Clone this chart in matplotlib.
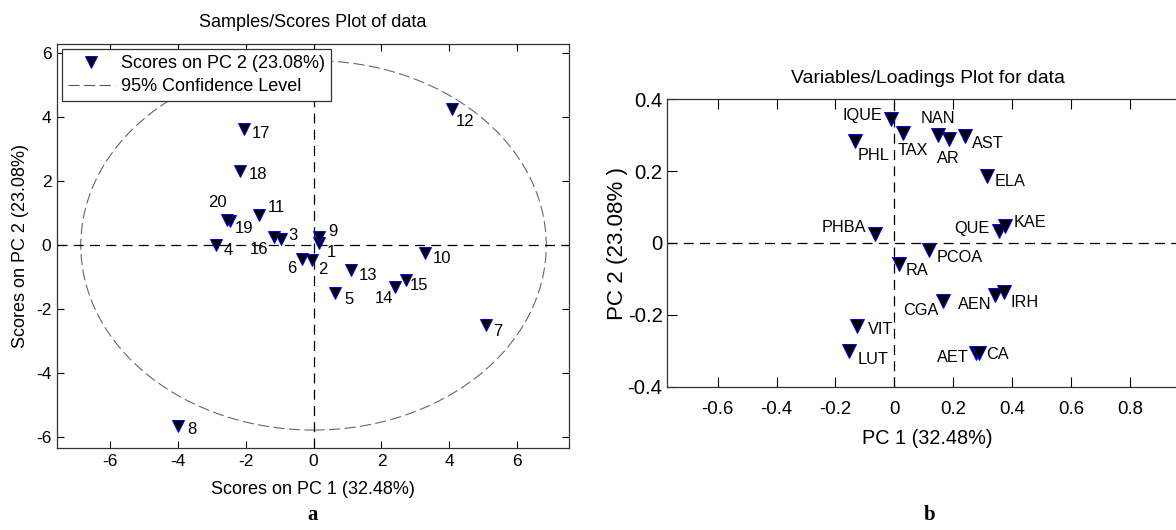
import matplotlib
matplotlib.use("Agg")
import matplotlib.pyplot as plt
from matplotlib import font_manager
from matplotlib.patches import Ellipse
from matplotlib.lines import Line2D
from matplotlib.ticker import FuncFormatter

# --- panel a: sample scores ---
sample_ids = ["1", "2", "3", "4", "5", "6", "7", "8", "9", "10",
              "11", "12", "13", "14", "15", "16", "17", "18", "19", "20"]
pc1_scores = [0.16, -0.03, -0.97, -2.86, 0.62, -0.33, 5.07, -4.0, 0.16, 3.27,
              -1.60, 4.09, 1.10, 2.41, 2.73, -1.16, -2.05, -2.15, -2.47, -2.56]
pc2_scores = [0.06, -0.46, 0.19, 0.01, -1.50, -0.44, -2.49, -5.64, 0.25, -0.25,
              0.95, 4.27, -0.77, -1.29, -1.08, 0.27, 3.63, 2.33, 0.77, 0.80]
conf_semi_axes = (6.85, 5.77)  # 95% confidence ellipse

# --- panel b: variable loadings ---
var_names = ["IQUE", "PHL", "PHBA", "VIT", "LUT", "TAX", "NAN", "AR", "AST", "ELA",
             "QUE", "KAE", "PCOA", "RA", "CGA", "AEN", "IRH", "AET", "CA"]
pc1_loadings = [-0.011, -0.133, -0.066, -0.128, -0.153, 0.031, 0.147, 0.185, 0.241, 0.314,
                0.357, 0.377, 0.119, 0.015, 0.164, 0.342, 0.371, 0.277, 0.289]
pc2_loadings = [0.346, 0.283, 0.024, -0.232, -0.301, 0.307, 0.302, 0.290, 0.297, 0.186,
                0.033, 0.047, -0.020, -0.058, -0.162, -0.146, -0.137, -0.306, -0.306]

# label offsets in pixels (dx right, dy down) -- layout only
score_offsets = {"1": (12, 9), "2": (10, 9), "3": (12, -4), "4": (12, 5), "5": (14, 6),
                 "6": (-11, 9), "7": (12, 6), "8": (14, 4), "9": (14, -6), "10": (17, 5),
                 "11": (17, -7), "12": (13, 13), "13": (17, 5), "14": (-11, 12), "15": (13, 6),
                 "16": (-15, 13), "17": (17, 4), "18": (18, 4), "19": (14, 8), "20": (-9, -17)}
loading_offsets = {"IQUE": ("right", -9, -3), "PHL": ("left", 2, 14), "PHBA": ("right", -9, -7),
                   "VIT": ("left", 11, 3), "LUT": ("left", 8, 8), "TAX": ("left", -6, 18),
                   "NAN": ("center", 0, -16), "AR": ("center", 0, 20), "AST": ("left", 7, 7),
                   "ELA": ("left", 8, 5), "QUE": ("right", -10, -3), "KAE": ("left", 8, -4),
                   "PCOA": ("left", 7, 7), "RA": ("left", 7, 7), "CGA": ("right", -4, 9),
                   "AEN": ("right", -3, 9), "IRH": ("left", 7, 10), "AET": ("right", -7, 5),
                   "CA": ("left", 7, 2)}

plt.rcParams['font.family'] = ['Liberation Sans', 'DejaVu Sans']
plt.rcParams['axes.unicode_minus'] = False

names = {f.name for f in font_manager.fontManager.ttflist}
narrow = 'Liberation Sans Narrow' if 'Liberation Sans Narrow' in names else 'Liberation Sans'
nscale = 1.0 if narrow == 'Liberation Sans Narrow' else 0.87

PX = 0.72  # points per pixel at dpi 100
fmt = FuncFormatter(lambda v, p: "%g" % round(v, 3))

fig = plt.figure(figsize=(11.76, 5.30), dpi=100)

# ---------------- panel a ----------------
ax1 = fig.add_axes([57 / 1176, 1 - 448 / 530, 512 / 1176, 404 / 530])
ax1.add_patch(Ellipse((0, 0), 2 * conf_semi_axes[0], 2 * conf_semi_axes[1], fill=False,
                      edgecolor='#666666', lw=0.8, ls=(0, (10, 4))))
ax1.axhline(0, color='k', lw=0.9, ls=(0, (8, 5)))
ax1.axvline(0, color='k', lw=0.9, ls=(0, (8, 5)))
ax1.plot(pc1_scores, pc2_scores, ls='none', marker='v', ms=9, mfc='black', mec='blue', mew=0.7)
for sid, x, y in zip(sample_ids, pc1_scores, pc2_scores):
    dx, dy = score_offsets[sid]
    ax1.annotate(sid, (x, y), xytext=(dx * PX, -dy * PX), textcoords='offset points',
                 ha='center', va='center', fontsize=12)
ax1.set_xlim(-7.55, 7.52)
ax1.set_ylim(-6.33, 6.29)
ax1.set_xticks([-6, -4, -2, 0, 2, 4, 6])
ax1.set_yticks([-6, -4, -2, 0, 2, 4, 6])
ax1.tick_params(direction='in', top=True, right=True, length=5, width=0.8, labelsize=12.5, pad=4)
ax1.set_title("Samples/Scores Plot of data", fontsize=13, pad=12)
ax1.set_xlabel("Scores on PC 1 (32.48%)", fontsize=13, labelpad=9)
ax1.set_ylabel("Scores on PC 2 (23.08%)", fontsize=13, labelpad=5)
for s in ax1.spines.values():
    s.set_linewidth(0.9)
    s.set_color('#333333')
handles = [Line2D([], [], ls='none', marker='v', ms=9, mfc='black', mec='blue', mew=0.7),
           Line2D([], [], color='#555555', lw=0.8, ls=(0, (10, 4)))]
leg = ax1.legend(handles, ["Scores on PC 2 (23.08%)", "95% Confidence Level"], loc='upper left',
                 bbox_to_anchor=(0, 1), borderaxespad=0.25, fontsize=13, handlelength=2.6,
                 handletextpad=0.35, borderpad=0.35, fancybox=False, framealpha=1,
                 edgecolor='#333333', labelspacing=0.35)
leg.get_frame().set_linewidth(0.9)
fig.text(313 / 1176, 1 - 515 / 530, "a", family='Liberation Serif', weight='bold',
         fontsize=15, ha='center', va='center')

# ---------------- panel b ----------------
ax2 = fig.add_axes([666.7 / 1176, 1 - 386.7 / 530, (1188.8 - 666.7) / 1176, 287.4 / 530])
ax2.axhline(0, color='k', lw=0.9, ls=(0, (8, 5)))
ax2.axvline(0, color='k', lw=0.9, ls=(0, (8, 5)))
ax2.plot(pc1_loadings, pc2_loadings, ls='none', marker='v', ms=10, mfc='black', mec='blue', mew=0.7)
for name, x, y in zip(var_names, pc1_loadings, pc2_loadings):
    ha, dx, dy = loading_offsets[name]
    ax2.annotate(name, (x, y), xytext=(dx * PX, -dy * PX), textcoords='offset points',
                 ha=ha, va='center', fontsize=13.5 * nscale, family=narrow)
ax2.set_xlim(-0.773, 1.0)
ax2.set_ylim(-0.4, 0.4)
ax2.set_xticks([-0.6, -0.4, -0.2, 0, 0.2, 0.4, 0.6, 0.8])
ax2.set_yticks([-0.4, -0.2, 0, 0.2, 0.4])
ax2.xaxis.set_major_formatter(fmt)
ax2.yaxis.set_major_formatter(fmt)
ax2.tick_params(direction='in', top=True, right=True, length=7, width=0.8)
ax2.tick_params(axis='x', labelsize=13.4, pad=10)
ax2.tick_params(axis='y', labelsize=16.8 * nscale, pad=3)
for lab in ax2.get_yticklabels():
    lab.set_family(narrow)
ax2.set_title("Variables/Loadings Plot for data", fontsize=16 * nscale, family=narrow, pad=12)
ax2.set_xlabel("PC 1 (32.48%)", fontsize=16.5 * nscale, family=narrow, labelpad=8)
ax2.set_ylabel("PC 2 (23.08% )", fontsize=18.5 * nscale, family=narrow, labelpad=0)
for s in ax2.spines.values():
    s.set_linewidth(0.9)
    s.set_color('#333333')
fig.text(930 / 1176, 1 - 515 / 530, "b", family='Liberation Serif', weight='bold',
         fontsize=15, ha='center', va='center')

fig.savefig("out.png", dpi=100)
